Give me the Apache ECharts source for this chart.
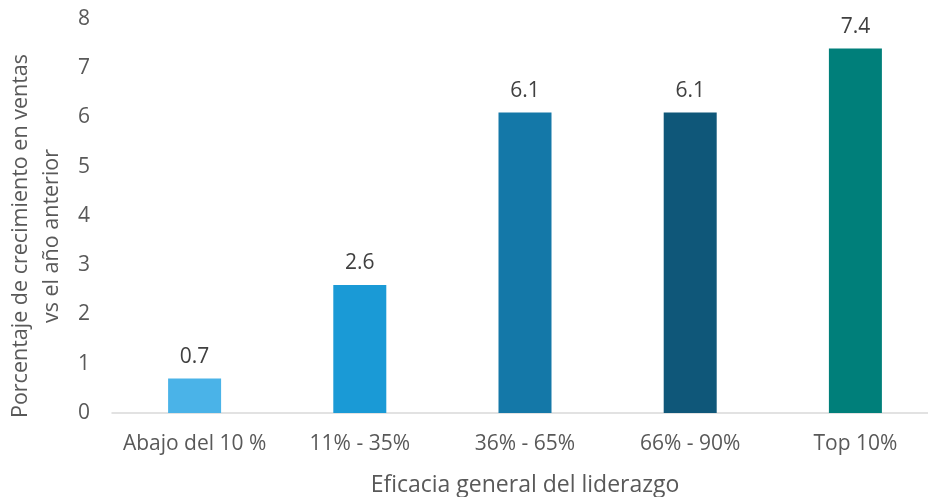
<!DOCTYPE html>
<html>
<head>
<meta charset="utf-8">
<script src="https://cdn.jsdelivr.net/npm/echarts@6/dist/echarts.min.js"></script>
<style>
  html, body { margin: 0; padding: 0; background: #fff; }
  #chart { width: 928px; height: 497px; }
</style>
</head>
<body>
<div id="chart"></div>
<script>
  // datos del gráfico
  const categories = ['Abajo del 10 %', '11% - 35%', '36% - 65%', '66% - 90%', 'Top 10%']
  const values = [0.7, 2.6, 6.1, 6.1, 7.4]
  const barColors = ['#4AB3E8', '#1A9AD6', '#1478A8', '#0F5779', '#007F7A']
  const yTicks = { min: 0, max: 8, interval: 1 }

  const textColor = '#595959'
  const font = '"Open Sans", "Noto Sans", sans-serif'

  const chart = echarts.init(document.getElementById('chart'))

  const option = {
    animation: false,
    grid: { left: 112, right: -10, top: 19, bottom: 84, containLabel: false, outerBoundsMode: 'none' },
    xAxis: {
      type: 'category',
      data: categories,
      name: 'Eficacia general del liderazgo',
      nameLocation: 'middle',
      nameGap: 61,
      nameTextStyle: { color: textColor, fontSize: 23, fontFamily: font },
      axisLine: { show: true, lineStyle: { color: '#D9D9D9', width: 1.5 } },
      axisTick: { show: false },
      axisLabel: { color: textColor, fontSize: 21, fontFamily: font, margin: 21, interval: 0 }
    },
    yAxis: {
      type: 'value',
      min: yTicks.min,
      max: yTicks.max,
      interval: yTicks.interval,
      name: 'Porcentaje de crecimiento en ventas\nvs el año anterior',
      nameLocation: 'middle',
      nameGap: 44,
      nameTextStyle: {
        color: textColor, fontSize: 21.5, fontFamily: font, lineHeight: 31,
        padding: [0, 40, 0, 0]
      },
      axisLine: { show: false },
      axisTick: { show: false },
      splitLine: { show: false },
      axisLabel: { color: textColor, fontSize: 21, fontFamily: font, margin: 22 }
    },
    series: [{
      type: 'bar',
      data: values.map((v, i) => ({ value: v, itemStyle: { color: barColors[i] } })),
      barWidth: 53,
      label: {
        show: true,
        position: 'top',
        distance: 11,
        color: '#404040',
        fontSize: 21,
        fontFamily: font,
        formatter: p => p.value.toFixed(1)
      }
    }]
  }

  chart.setOption(option)
</script>
</body>
</html>
